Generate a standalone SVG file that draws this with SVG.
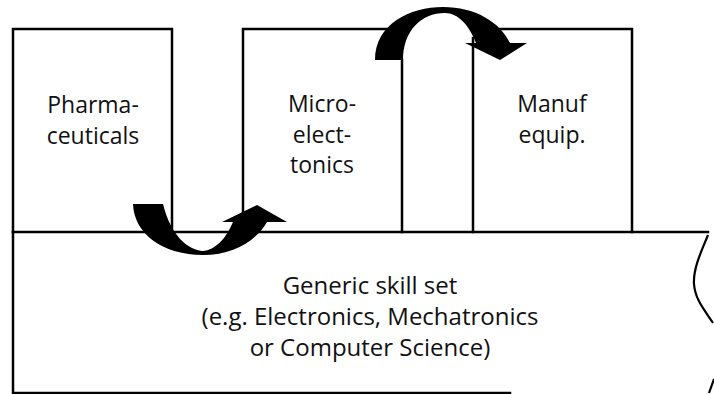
<svg xmlns="http://www.w3.org/2000/svg" width="714" height="394" viewBox="0 0 714 394">
  <style>
    .edge { fill: none; stroke: #000; stroke-width: 2.5; stroke-linecap: square; }
    .label { font-family: "Open Sans", "Noto Sans", sans-serif; font-size: 23px; fill: #111; text-anchor: middle; }
    .wide { font-size: 24px; }
    .arrow { fill: #000; stroke: none; }
  </style>
  <rect width="714" height="394" fill="#fff"/>

  <!-- base layer: generic skills, torn off at the right -->
  <g id="generic">
    <path class="edge" d="M13,232 H708"/>
    <path class="edge" d="M13,232 V393 H510"/>
    <path d="M708,235 C702,250 693,268 694,284 C695,300 706,312 713,323" fill="none" stroke="#000" stroke-width="2.2"/>
    <path d="M709,393 L714,379" fill="none" stroke="#000" stroke-width="2.2"/>
    <text class="label wide" x="370" y="294">Generic skill set</text>
    <text class="label wide" x="370" y="325">(e.g. Electronics, Mechatronics</text>
    <text class="label wide" x="370" y="356">or Computer Science)</text>
  </g>

  <g id="pharma">
    <path class="edge" d="M13,232 V29 H172 V232"/>
    <text class="label" x="93" y="113">Pharma-</text>
    <text class="label" x="93" y="144">ceuticals</text>
  </g>

  <g id="micro">
    <path class="edge" d="M243,232 V29 H388"/>
    <path class="edge" d="M402,60 V232"/>
    <text class="label" x="322" y="112">Micro-</text>
    <text class="label" x="322" y="143">elect-</text>
    <text class="label" x="322" y="173">tonics</text>
  </g>

  <g id="manuf">
    <path class="edge" d="M473,232 V38"/>
    <path class="edge" d="M500,29 H632 V232"/>
    <text class="label" x="552" y="112">Manuf</text>
    <text class="label" x="552" y="143">equip.</text>
  </g>

  <!-- curved arrows showing movement between sectors -->
  <g id="connectors">
    <path class="arrow" d="M133,204 C134,234 163,255 203,255 C233,255 256,241 267,222 L287,222 L257,205 L222,222 L233,222 C226,239 215,250 203,251 C188,250 171,236 163,204 Z"/>
    <path class="arrow" d="M375,60 C375,24 410,7 443,7 C475,7 500,22 510,43 L527,43 L500,60 L465,43 L476,43 C469,25 458,13 445,13 C421,13 403,31 403,60 Z"/>
  </g>
</svg>
